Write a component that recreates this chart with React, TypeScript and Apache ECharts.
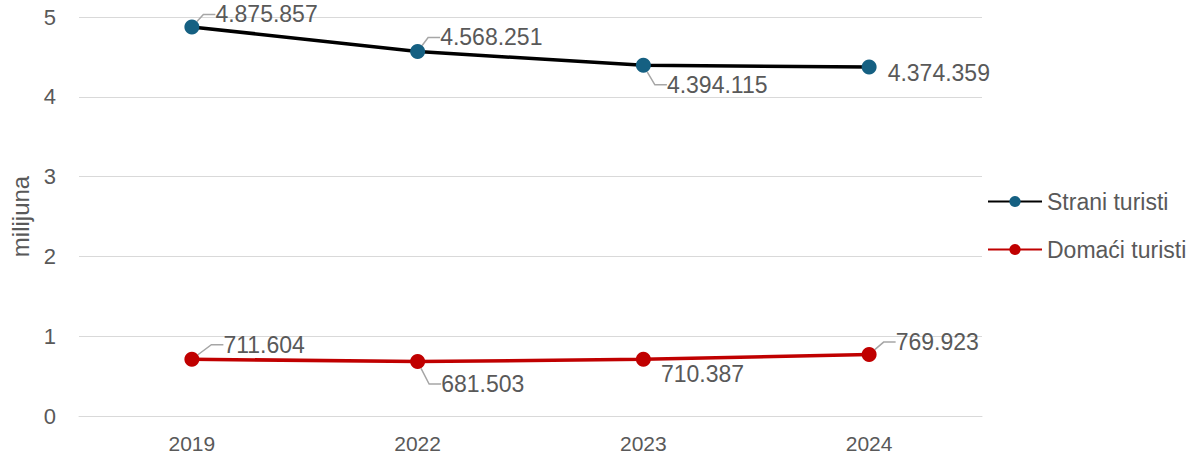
import React, { useEffect, useRef } from "react";
import * as echarts from "echarts";

const years = ["2019", "2022", "2023", "2024"];
const straniRaw = [4875857, 4568251, 4394115, 4374359];
const domaciRaw = [711604, 681503, 710387, 769923];
const yTicks = [0, 1, 2, 3, 4, 5];

const straniOffsets = [[11, -12.5], [10, -14], [11, 19.5], [6, 6.5]];
const domaciOffsets = [[19, -14.5], [11, 22.5], [5, 15], [14, -12.5]];
const straniLeader = [true, true, true, false];
const domaciLeader = [true, true, false, true];

const fmt = (v: number) => v.toString().replace(/\B(?=(\d{3})+(?!\d))/g, ".");

export default function App() {
  const ref = useRef<HTMLDivElement>(null);
  useEffect(() => {
    if (!ref.current) return;
    const chart = echarts.init(ref.current, null, { renderer: "svg" });
    const font = "'Liberation Sans', Arial, sans-serif";
    const pad = 8;
    const mkSeries = (
      name: string,
      raw: number[],
      lineColor: string,
      dotColor: string,
      offs: number[][],
      leader: boolean[]
    ) => ({
      name,
      type: "line",
      data: raw.map((v, i) => ({ value: v / 1e6, labelLine: { show: leader[i] } })),
      symbol: "circle",
      symbolSize: 15,
      lineStyle: { color: lineColor, width: 3.5 },
      itemStyle: { color: dotColor },
      label: {
        show: true,
        position: "right",
        distance: 5,
        padding: [0, 0, 0, pad],
        color: "#595959",
        fontSize: 23,
        fontFamily: font,
        formatter: (p: any) => fmt(raw[p.dataIndex]),
      },
      labelLine: { show: true, length2: 12, lineStyle: { color: "#a6a6a6", width: 1.5 } },
      labelLayout: (p: any) => ({ dx: offs[p.dataIndex][0] - pad, dy: offs[p.dataIndex][1] }),
    });
    chart.setOption({
      animation: false,
      textStyle: { fontFamily: font },
      grid: { left: 79, right: 214, top: 17, bottom: 40, outerBoundsMode: "none", containLabel: false },
      legend: {
        orient: "vertical",
        left: 982,
        top: 185,
        itemWidth: 54,
        itemHeight: 14,
        itemGap: 25,
        textStyle: { color: "#595959", fontSize: 23, fontFamily: font },
        data: ["Strani turisti", "Domaći turisti"],
      },
      xAxis: {
        type: "category",
        data: years,
        boundaryGap: true,
        axisLine: { lineStyle: { color: "#d9d9d9" } },
        axisTick: { show: false },
        axisLabel: { color: "#595959", fontSize: 21, lineHeight: 21, margin: 17, fontFamily: font },
      },
      yAxis: {
        type: "value",
        min: 0,
        max: 5,
        interval: 1,
        name: "milijuna",
        nameLocation: "middle",
        nameGap: 47,
        nameTextStyle: { color: "#595959", fontSize: 24, fontFamily: font },
        axisLabel: {
          color: "#595959",
          fontSize: 22,
          margin: 23,
          fontFamily: font,
          formatter: (v: number) => (yTicks.includes(v) ? String(v) : ""),
        },
        splitLine: { lineStyle: { color: "#d9d9d9", width: 1 } },
        axisLine: { show: false },
        axisTick: { show: false },
      },
      series: [
        mkSeries("Strani turisti", straniRaw, "#000000", "#156082", straniOffsets, straniLeader),
        mkSeries("Domaći turisti", domaciRaw, "#c00000", "#c00000", domaciOffsets, domaciLeader),
      ],
    });
    return () => chart.dispose();
  }, []);
  return (
    <div
      ref={ref}
      style={{ position: "absolute", left: 0, top: 0, width: 1196, height: 456 }}
    />
  );
}
